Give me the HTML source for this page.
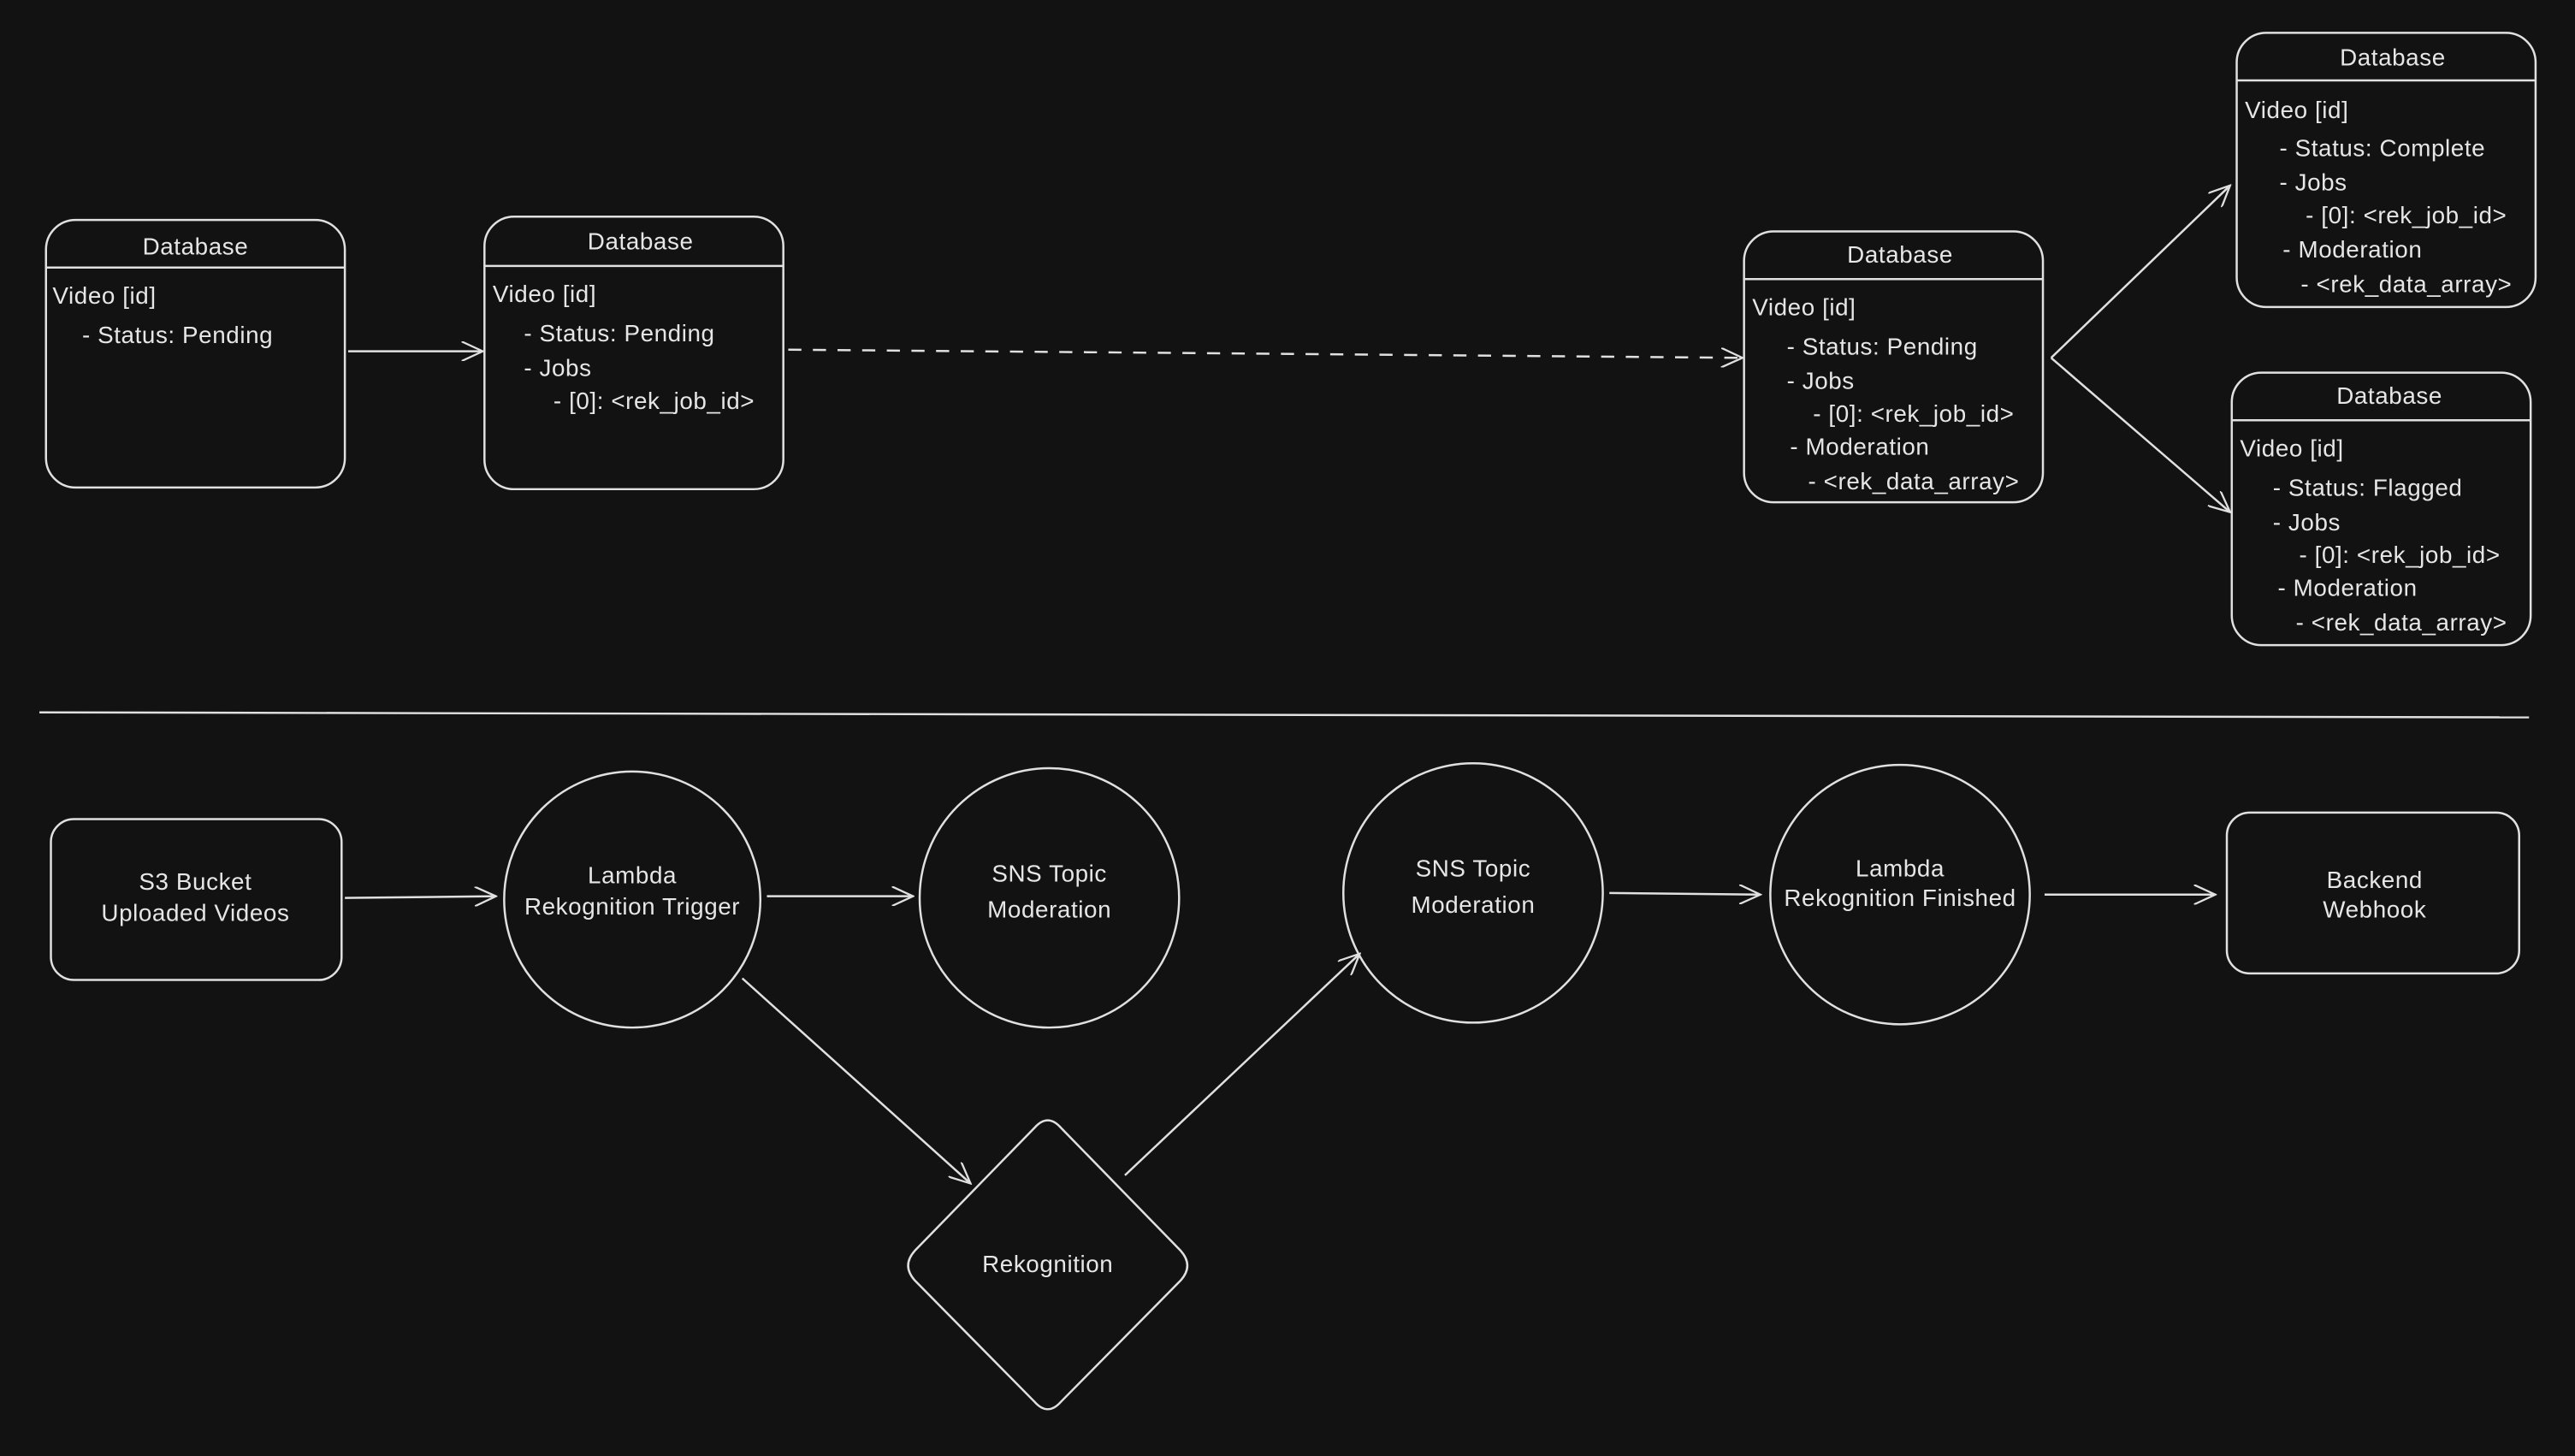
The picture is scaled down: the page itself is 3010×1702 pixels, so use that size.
<!DOCTYPE html>
<html><head><meta charset="utf-8"><style>
html,body{margin:0;padding:0;background:#121212;}
svg{display:block}
text{font-family:"Liberation Sans",sans-serif;fill:#e6e6e6;font-size:14.5px;letter-spacing:0.3px}
.c{text-anchor:middle}
</style></head><body>
<svg width="3010" height="1702" viewBox="0 0 1568 887" preserveAspectRatio="none" xmlns="http://www.w3.org/2000/svg">
<defs>
<marker id="a" markerWidth="14" markerHeight="12" refX="13" refY="6" orient="auto" markerUnits="userSpaceOnUse">
<path d="M0,0 L13,6 L0,12" fill="none" stroke="#e0e0e0" stroke-width="1.2"/>
</marker>
</defs>
<rect width="1568" height="887" fill="#121212"/>
<g fill="none" stroke="#e0e0e0" stroke-width="1.3">
<rect x="28" y="134" width="182" height="163" rx="18"/><line x1="28" y1="163" x2="210" y2="163"/>
<rect x="295" y="132" width="182" height="166" rx="18"/><line x1="295" y1="162" x2="477" y2="162"/>
<rect x="1062" y="141" width="182" height="165" rx="18"/><line x1="1062" y1="170" x2="1244" y2="170"/>
<rect x="1362" y="20" width="182" height="167" rx="18"/><line x1="1362" y1="49" x2="1544" y2="49"/>
<rect x="1359" y="227" width="182" height="166" rx="18"/><line x1="1359" y1="256" x2="1541" y2="256"/>
<line x1="212" y1="214" x2="294" y2="214" marker-end="url(#a)"/>
<line x1="480" y1="213" x2="1061" y2="218" stroke-dasharray="8 7" marker-end="url(#a)"/>
<line x1="1249" y1="218" x2="1358" y2="113" marker-end="url(#a)"/>
<line x1="1249" y1="218" x2="1358" y2="312" marker-end="url(#a)"/>
<line x1="24" y1="434" x2="1540" y2="437"/>
<rect x="31" y="499" width="177" height="98" rx="14"/>
<line x1="210" y1="547" x2="302" y2="546" marker-end="url(#a)"/>
<circle cx="385" cy="548" r="78"/>
<line x1="467" y1="546" x2="556" y2="546" marker-end="url(#a)"/>
<circle cx="639" cy="547" r="79"/>
<circle cx="897" cy="544" r="79"/>
<line x1="980" y1="544" x2="1072" y2="545" marker-end="url(#a)"/>
<circle cx="1157" cy="545" r="79"/>
<line x1="1245" y1="545" x2="1349" y2="545" marker-end="url(#a)"/>
<rect x="1356" y="495" width="178" height="98" rx="14"/>
<path d="M630,687 Q638,678 646,687 L719,762 Q727,771 719,780 L646,854 Q638,863 630,854 L557,780 Q549,771 557,762 Z"/>
<line x1="452" y1="596" x2="591" y2="721" marker-end="url(#a)"/>
<line x1="685" y1="716" x2="828" y2="581" marker-end="url(#a)"/>
</g>
<text class="c" x="119" y="155">Database</text>
<text x="32" y="185">Video [id]</text>
<text x="50" y="209">- Status: Pending</text>

<text class="c" x="390" y="152">Database</text>
<text x="300" y="184">Video [id]</text>
<text x="319" y="208">- Status: Pending</text>
<text x="319" y="229">- Jobs</text>
<text x="337" y="249">- [0]: &lt;rek_job_id&gt;</text>

<text class="c" x="1157" y="160">Database</text>
<text x="1067" y="192">Video [id]</text>
<text x="1088" y="216">- Status: Pending</text>
<text x="1088" y="237">- Jobs</text>
<text x="1104" y="257">- [0]: &lt;rek_job_id&gt;</text>
<text x="1090" y="277">- Moderation</text>
<text x="1101" y="298">- &lt;rek_data_array&gt;</text>

<text class="c" x="1457" y="40">Database</text>
<text x="1367" y="72">Video [id]</text>
<text x="1388" y="95">- Status: Complete</text>
<text x="1388" y="116">- Jobs</text>
<text x="1404" y="136">- [0]: &lt;rek_job_id&gt;</text>
<text x="1390" y="157">- Moderation</text>
<text x="1401" y="178">- &lt;rek_data_array&gt;</text>

<text class="c" x="1455" y="246">Database</text>
<text x="1364" y="278">Video [id]</text>
<text x="1384" y="302">- Status: Flagged</text>
<text x="1384" y="323">- Jobs</text>
<text x="1400" y="343">- [0]: &lt;rek_job_id&gt;</text>
<text x="1387" y="363">- Moderation</text>
<text x="1398" y="384">- &lt;rek_data_array&gt;</text>

<text class="c" x="119" y="542">S3 Bucket</text>
<text class="c" x="119" y="561">Uploaded Videos</text>
<text class="c" x="385" y="538">Lambda</text>
<text class="c" x="385" y="557">Rekognition Trigger</text>
<text class="c" x="639" y="537">SNS Topic</text>
<text class="c" x="639" y="559">Moderation</text>
<text class="c" x="897" y="534">SNS Topic</text>
<text class="c" x="897" y="556">Moderation</text>
<text class="c" x="1157" y="534">Lambda</text>
<text class="c" x="1157" y="552">Rekognition Finished</text>
<text class="c" x="1446" y="541">Backend</text>
<text class="c" x="1446" y="559">Webhook</text>
<text class="c" x="638" y="775">Rekognition</text>
</svg>
</body></html>
